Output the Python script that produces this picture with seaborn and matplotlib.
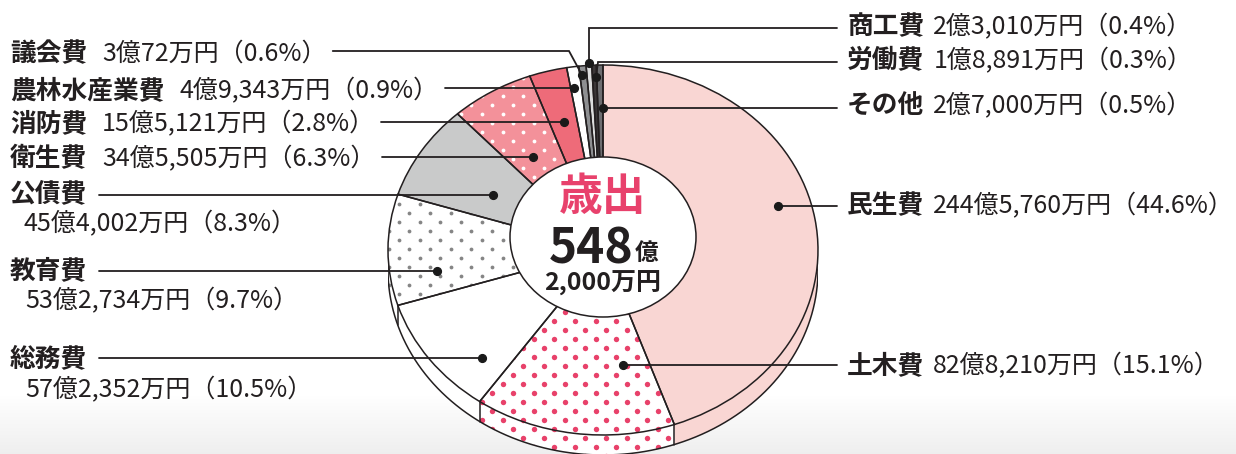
import numpy as np
import matplotlib
matplotlib.use("Agg")
import matplotlib.pyplot as plt
import seaborn as sns
from matplotlib.patches import Polygon, Ellipse

# ---------------- data ----------------
categories = ["民生費", "土木費", "総務費", "教育費", "公債費", "衛生費",
              "消防費", "農林水産業費", "議会費", "商工費", "労働費", "その他"]
amounts_man_yen = [2445760, 828210, 572352, 532734, 454002, 345505,
                   155121, 49343, 30072, 23010, 18891, 27000]
amount_labels = ["244億5,760万円", "82億8,210万円", "57億2,352万円", "53億2,734万円",
                 "45億4,002万円", "34億5,505万円", "15億5,121万円", "4億9,343万円",
                 "3億72万円", "2億3,010万円", "1億8,891万円", "2億7,000万円"]
percent_labels = ["44.6%", "15.1%", "10.5%", "9.7%", "8.3%", "6.3%",
                  "2.8%", "0.9%", "0.6%", "0.4%", "0.3%", "0.5%"]
center_title = "歳出"
total_main = "548"
total_unit = "億"
total_sub = "2,000万円"

# ---------------- style ----------------
sns.set_theme(style="white")
plt.rcParams['font.family'] = ['Noto Sans CJK JP', 'DejaVu Sans']

EDGE = "#231f20"
TEXT = "#231f20"
face_colors = ["#f9d6d3", "#ffffff", "#ffffff", "#ffffff", "#c9caca", "#f3919a",
               "#ee6b79", "#ffffff", "#8e8f91", "#dcdddd", "#3a3637", "#6d6e71"]
dot_styles = {"土木費": ("#e8416a", 5.4), "教育費": ("#858585", 3.8), "衛生費": ("#ffffff", 3.8)}

W, H = 1236, 454
CX, TOPY, RX, RY, THICK = 603, 65, 215, 185, 20
h = THICK / RY

fig = plt.figure(figsize=(W / 100, H / 100), dpi=100)

# background gradient
axb = fig.add_axes([0, 0, 1, 1], zorder=0)
grad = np.ones((H, 1))
yy = np.arange(H)
g = np.clip((yy - 395) / (H - 395), 0, 1)
grad[:, 0] = 1 - 0.065 * g
axb.imshow(np.dstack([grad, grad, grad]), aspect='auto', extent=(0, W, H, 0))
axb.set_xlim(0, W); axb.set_ylim(H, 0); axb.axis('off')

# pie axes: data unit circle -> ellipse in pixels
left_px = CX - RX
top_px = TOPY
height_px = RY * (2 + h)
axp = fig.add_axes([left_px / W, (H - (top_px + height_px)) / H, 2 * RX / W, height_px / H], zorder=1)
axp.patch.set_alpha(0)

# top face fills
wedges, _ = axp.pie(amounts_man_yen, startangle=90, counterclock=False,
                    colors=face_colors, radius=1,
                    wedgeprops=dict(edgecolor='none', linewidth=0))
for w in wedges:
    w.set_zorder(2)

# dot lattice (texture) in pixel spacing
px_period, row_step = 20.7, 9.0
pts = []
for r, yv in enumerate(np.arange(-RY * (1 + h) - 10, RY + 10, row_step)):
    off = (px_period / 2) * (r % 2)
    for xv in np.arange(-RX - 20 + off, RX + 20, px_period):
        pts.append((xv / RX, yv / RY))
pts = np.array(pts)

# side surfaces
for w, cat, fc in zip(wedges, categories, face_colors):
    t = np.radians(np.linspace(w.theta1, w.theta2, 120))
    top = np.column_stack([np.cos(t), np.sin(t)])
    bot = top - np.array([0, h])
    poly = Polygon(np.vstack([top, bot[::-1]]), closed=True, facecolor=fc,
                   edgecolor='none', zorder=0.5)
    axp.add_patch(poly)
    if cat in dot_styles:
        c, d = dot_styles[cat]
        sc = axp.scatter(pts[:, 0], pts[:, 1], s=(d * 0.72) ** 2, c=c, linewidths=0, zorder=0.6)
        sc.set_clip_path(poly)
    th = np.radians(w.theta1)
    if np.sin(th) < 0.02:
        axp.plot([np.cos(th)] * 2, [np.sin(th), np.sin(th) - h], color=EDGE, lw=1.1, zorder=0.7)

# bottom outline of side
tb = np.radians(np.linspace(180, 360, 300))
axp.plot(np.cos(tb), np.sin(tb) - h, color=EDGE, lw=1.1, zorder=0.7)
axp.plot([-1, -1], [0, -h], color=EDGE, lw=1.1, zorder=0.7)
axp.plot([1, 1], [0, -h], color=EDGE, lw=1.1, zorder=0.7)

# dots on top face
for w, cat in zip(wedges, categories):
    if cat in dot_styles:
        c, d = dot_styles[cat]
        sc = axp.scatter(pts[:, 0], pts[:, 1], s=(d * 0.72) ** 2, c=c, linewidths=0, zorder=2.5)
        sc.set_clip_path(w)

# top face outlines
outl, _ = axp.pie(amounts_man_yen, startangle=90, counterclock=False, radius=1,
                  wedgeprops=dict(fill=False, edgecolor=EDGE, linewidth=1.1))
for w in outl:
    w.set_zorder(3)

# inner white disc
axp.add_patch(Ellipse((0, (RY - (237 - TOPY)) / RY), width=2 * 93 / RX, height=2 * 80 / RY,
                      facecolor='white', edgecolor=EDGE, lw=1.1, zorder=4))
axp.set_aspect('auto')
axp.set_xlim(-1, 1)
axp.set_ylim(-1 - h, 1)
axp.axis('off')

# ---------------- overlay: labels, leaders ----------------
axo = fig.add_axes([0, 0, 1, 1], zorder=2)
axo.patch.set_alpha(0)
axo.set_xlim(0, W); axo.set_ylim(H, 0); axo.axis('off')

# center text
axo.text(CX, 210, center_title, ha='center', va='baseline', fontsize=31.5,
         fontweight='bold', color='#e8416c')
axo.text(634, 263, total_main, ha='right', va='baseline', fontsize=34.5,
         fontweight='bold', color=TEXT)
axo.text(635, 260, total_unit, ha='left', va='baseline', fontsize=17,
         fontweight='bold', color=TEXT)
axo.text(CX, 291, total_sub, ha='center', va='baseline', fontsize=18,
         fontweight='bold', color=TEXT)

CAT_FS, VAL_FS = 18.5, 18

layout = {
    "商工費": dict(x=847, y=27, side='R', path=[(837, 28), (589, 28), (589, 63)]),
    "労働費": dict(x=847, y=61, side='R', path=[(837, 62), (598, 62), (596, 77)]),
    "その他": dict(x=847, y=106, side='R', path=[(837, 108), (603, 108)]),
    "民生費": dict(x=847, y=206, side='R', path=[(837, 206), (778, 206)]),
    "土木費": dict(x=847, y=366, side='R', path=[(837, 365), (623, 365)]),
    "議会費": dict(x=10, y=54, side='L', path=[(569, 51), (582, 75)], ly=51),
    "農林水産業費": dict(x=10, y=91, side='L', path=[(574, 88)], ly=88),
    "消防費": dict(x=10, y=124, side='L', path=[(564, 122)], ly=122),
    "衛生費": dict(x=10, y=159, side='L', path=[(533, 157)], ly=157),
    "公債費": dict(x=10, y=194, side='L2', path=[(493, 195)], ly=195, vx=24, vy=224),
    "教育費": dict(x=10, y=271, side='L2', path=[(437, 271)], ly=271, vx=25, vy=301),
    "総務費": dict(x=10, y=359, side='L2', path=[(482, 358)], ly=358, vx=25, vy=390),
}

fig.canvas.draw()
renderer = fig.canvas.get_renderer()
inv = axo.transData.inverted()

def right_edge(t):
    bb = t.get_window_extent(renderer)
    return inv.transform((bb.x1, bb.y0))[0]

for cat, amt, pct in zip(categories, amount_labels, percent_labels):
    L = layout[cat]
    value = f"{amt}（{pct}）"
    tc = axo.text(L['x'], L['y'], cat, ha='left', va='center', fontsize=CAT_FS,
                  fontweight='bold', color=TEXT)
    cat_end = right_edge(tc)
    if L['side'] == 'R':
        axo.text(cat_end + 9, L['y'], value, ha='left', va='center', fontsize=VAL_FS, color=TEXT)
        path = L['path']
    elif L['side'] == 'L':
        tv = axo.text(cat_end + 15, L['y'], value, ha='left', va='center', fontsize=VAL_FS, color=TEXT)
        v_end = right_edge(tv)
        path = [(v_end + 6, L['ly'])] + L['path']
    else:
        axo.text(L['vx'], L['vy'], value, ha='left', va='center', fontsize=VAL_FS, color=TEXT)
        path = [(cat_end + 12, L['ly'])] + L['path']
    xs, ys = zip(*path)
    axo.plot(xs, ys, color=EDGE, lw=1.3, solid_joinstyle='miter')
    axo.plot([xs[-1]], [ys[-1]], 'o', ms=5.6, color='#1a1a1a')

fig.savefig("out.png", dpi=100)
